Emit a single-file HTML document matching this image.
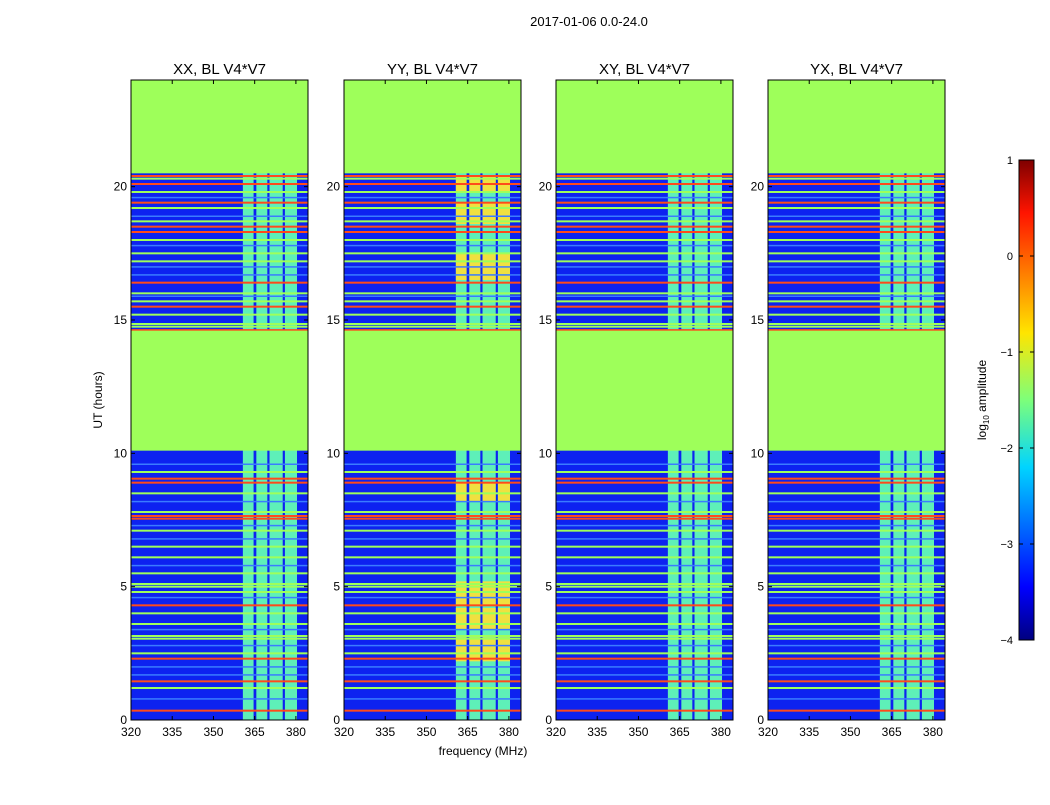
<!DOCTYPE html>
<html><head><meta charset="utf-8"><style>
body{margin:0;background:#fff;font-family:"Liberation Sans",sans-serif}
svg text{font-family:"Liberation Sans",sans-serif}
</style></head><body>
<svg id="s" width="1050" height="800">
<defs>
<linearGradient id="jet" x1="0" y1="1" x2="0" y2="0">
<stop offset="0" stop-color="#00007f"/><stop offset="0.11" stop-color="#0000ff"/>
<stop offset="0.36" stop-color="#00d4ff"/><stop offset="0.5" stop-color="#7dff7a"/>
<stop offset="0.64" stop-color="#ffe500"/><stop offset="0.89" stop-color="#ff1400"/>
<stop offset="1" stop-color="#7f0000"/></linearGradient>
</defs>
<text x="589" y="26" font-size="13" text-anchor="middle">2017-01-06 0.0-24.0</text>
<text x="483" y="755" font-size="12" text-anchor="middle">frequency (MHz)</text>
<text transform="translate(102,400) rotate(-90)" font-size="12" text-anchor="middle">UT (hours)</text>
<g id="panels"></g>
<rect x="1019" y="160" width="15" height="480" fill="url(#jet)" stroke="#000"/>
<g id="cb"></g>
<text transform="translate(986,400) rotate(-90)" font-size="12" text-anchor="middle">log<tspan font-size="8" dy="3">10</tspan><tspan dy="-3"> amplitude</tspan></text>
</svg>
<script>
const panelTitles=["XX, BL V4*V7","YY, BL V4*V7","XY, BL V4*V7","YX, BL V4*V7"];
const panelLefts=[131,344,556,768];
const xTicks=[320,335,350,365,380];
const yTicks=[0,5,10,15,20];
const cbTicks=[1,0,-1,-2,-3,-4];
const flaggedRanges=[[20.5,24],[10.1,14.6]];
const redLines=[0.35,1.45,2.3,4.3,7.55,7.65,8.9,9.05,14.62,15.5,16.4,18.3,18.5,19.4,20.1,20.4];
const greenLines=[1.2,2.5,3.05,3.15,3.6,4.0,4.8,5.0,5.1,5.5,6.1,6.5,7.1,7.8,8.5,9.3,14.75,14.85,15.2,15.7,16.0,17.2,17.5,18.0,18.7,19.2,19.8,20.3];
const faintLines=[0.8,1.7,2.0,2.8,3.4,4.6,5.8,6.8,7.3,8.2,9.6,15.9,16.7,17.0,17.8,18.9,19.6];
const bandRanges=[[360.7,364.6],[365.6,369.6],[370.4,375.2],[376,380.4]];
const yyWarm=[[2.2,3.1],[3.4,4.2],[4.3,5.2],[8.2,8.9],[16.5,17.5],[18.6,19.4],[19.8,20.4]];
const S="http://www.w3.org/2000/svg";
const F0=320,F1=384.4,PW=177,TOP=80,BOT=720,H=24;
function yS(h){return BOT-h*(BOT-TOP)/H}
function mk(t,a,p){const e=document.createElementNS(S,t);for(const k in a)e.setAttribute(k,a[k]);p.appendChild(e);return e}
const G=document.getElementById('panels');
panelTitles.forEach((title,pi)=>{
 const L=panelLefts[pi];
 const xS=f=>L+(f-F0)*PW/(F1-F0);
 const g=mk('g',{},G);
 
 
 mk('rect',{x:L,y:TOP,width:PW,height:BOT-TOP,fill:'#0d22f0'},g);
 bandRanges.forEach(b=>{const r=mk('rect',{x:xS(b[0]),y:TOP,width:xS(b[1])-xS(b[0]),height:BOT-TOP,fill:'#5ef0b8'},g);
  });
 if(pi===1)yyWarm.forEach(w=>bandRanges.forEach(b=>mk('rect',{x:xS(b[0]),y:yS(w[1]),width:xS(b[1])-xS(b[0]),height:yS(w[0])-yS(w[1]),fill:'#f0e040'},g)));
 faintLines.forEach(h=>mk('rect',{x:L,y:yS(h)-0.5,width:PW,height:1.5,fill:'#3a7cff'},g));
 greenLines.forEach(h=>{const r=mk('rect',{x:L,y:yS(h)-1,width:PW,height:2,fill:'#9eff5a'},g);
  });
 redLines.forEach(h=>{const r=mk('rect',{x:L,y:yS(h)-1,width:PW,height:2,fill:'#ff4a1a'},g);
  });
 flaggedRanges.forEach(r=>{const e=mk('rect',{x:L,y:yS(r[1]),width:PW,height:yS(r[0])-yS(r[1]),fill:'#9eff5a'},g);
  });
 mk('rect',{x:L,y:TOP,width:PW,height:BOT-TOP,fill:'none',stroke:'#000','stroke-width':1},g);
 const t=mk('text',{x:L+PW/2,y:74,'font-size':15,'text-anchor':'middle'},g);t.textContent=title;
 
 xTicks.forEach(v=>{const x=xS(v);mk('line',{x1:x,x2:x,y1:BOT,y2:BOT-4,stroke:'#000'},g);mk('line',{x1:x,x2:x,y1:TOP,y2:TOP+4,stroke:'#000'},g);
  const e=mk('text',{x:x,y:BOT+16,'font-size':12,'text-anchor':'middle'},g);e.textContent=v;
  });
 yTicks.forEach(v=>{const y=yS(v);mk('line',{x1:L,x2:L+4,y1:y,y2:y,stroke:'#000'},g);mk('line',{x1:L+PW,x2:L+PW-4,y1:y,y2:y,stroke:'#000'},g);
  const e=mk('text',{x:L-4,y:y+4,'font-size':12,'text-anchor':'end'},g);e.textContent=v;
  });
});
const CB=document.getElementById('cb');
cbTicks.forEach(v=>{const y=160+(1-v)*96;
 mk('line',{x1:1019,x2:1023,y1:y,y2:y,stroke:'#000'},CB);mk('line',{x1:1034,x2:1030,y1:y,y2:y,stroke:'#000'},CB);
 const e=mk('text',{x:1013,y:y+4,'font-size':11,'text-anchor':'end'},CB);e.textContent=v<0?'\u2212'+(-v):v;
 });
</script>
</body></html>
